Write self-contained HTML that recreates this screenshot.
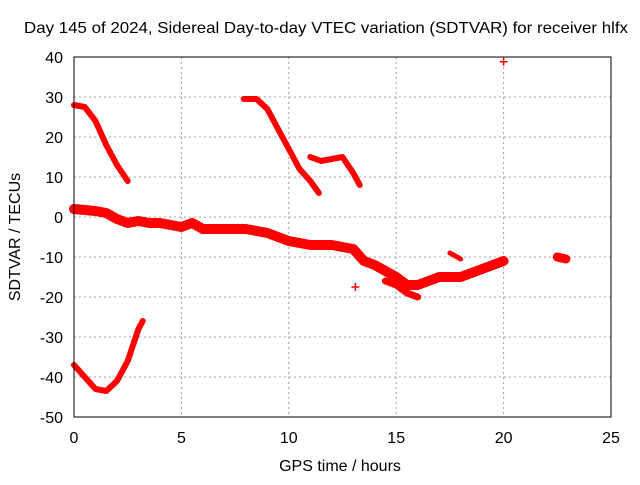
<!DOCTYPE html>
<html><head><meta charset="utf-8"><style>
body{margin:0;background:#fff}
svg text{font-family:"Liberation Sans",sans-serif;font-size:16px;fill:#000}
</style></head><body>
<svg id="c" width="640" height="480" xmlns="http://www.w3.org/2000/svg">
<text x="326" y="33" text-anchor="middle" textLength="604" lengthAdjust="spacingAndGlyphs">Day 145 of 2024, Sidereal Day-to-day VTEC variation (SDTVAR) for receiver hlfx</text>
<text x="340" y="471" text-anchor="middle">GPS time / hours</text>
<text transform="translate(20,237) rotate(-90)" text-anchor="middle">SDTVAR / TECUs</text>
<g id="grid"></g><g id="marks"></g>
<rect x="74" y="57" width="537" height="360" fill="none" stroke="#000"/>
</svg>
<script>
const xTicks=[0,5,10,15,20,25];
const yTicks=[40,30,20,10,0,-10,-20,-30,-40,-50];
const track1X=[0,0.5,1,1.5,2,2.5],track1Y=[28,27.5,24,18,13,9];
const track2X=[0,0.5,1,1.5,2,2.5,3,3.2],track2Y=[-37,-40,-43,-43.5,-41,-36,-28,-26];
const track3X=[7.9,8.5,9,9.5,10,10.5,11,11.4],track3Y=[29.5,29.5,27,22,17,12,9,6];
const track4X=[11,11.5,12,12.5,13,13.3],track4Y=[15,14,14.5,15,11,8];
const track5X=[0,1,1.5,2,2.5,3,3.5,4,5,5.5,6,7,8,9,10,11,12,13,13.5,14,15,15.5,16,16.5,17,18,19,20];
const track5Y=[2,1.5,1,-0.5,-1.5,-1,-1.5,-1.5,-2.5,-1.5,-3,-3,-3,-4,-6,-7,-7,-8,-11,-12,-15,-17,-17,-16,-15,-15,-13,-11];
const track6X=[14.5,15,15.5,16],track6Y=[-16,-17,-19,-20];
const track7X=[17.5,18],track7Y=[-9,-10.5];
const track8X=[22.5,22.9],track8Y=[-10,-10.5];
const pointsX=[20,13.1],pointsY=[38.8,-17.5];
const sx=v=>74+v*537/25, sy=v=>57+(40-v)*4;
const NS='http://www.w3.org/2000/svg';
const g=document.getElementById('grid'),m=document.getElementById('marks');
function mk(t,a,p){const e=document.createElementNS(NS,t);for(const k in a)e.setAttribute(k,a[k]);p.appendChild(e);return e;}
xTicks.forEach(v=>{
 if(v>0&&v<25){const l=mk('line',{x1:sx(v),x2:sx(v),y1:57,y2:417,stroke:'#a0a0a0','stroke-dasharray':'2,3'},g);
 
 }
 const t=mk('text',{x:sx(v),y:443,'text-anchor':'middle'},g);t.textContent=v;
 
 
});
yTicks.forEach(v=>{
 if(v<40&&v>-50){const l=mk('line',{x1:74,x2:611,y1:sy(v),y2:sy(v),stroke:'#a0a0a0','stroke-dasharray':'2,3'},g);
 
 }
 const t=mk('text',{x:63,y:sy(v)+6,'text-anchor':'end'},g);t.textContent=v;
 
 
});
const tracks=[[track1X,track1Y,6],[track2X,track2Y,6],[track3X,track3Y,6],[track4X,track4Y,6],[track5X,track5Y,10],[track6X,track6Y,7],[track7X,track7Y,5],[track8X,track8Y,9]];
tracks.forEach((tr,i)=>{
 const p=mk('polyline',{points:tr[0].map((x,j)=>sx(x)+','+sy(tr[1][j])).join(' '),fill:'none',stroke:'#f00','stroke-width':tr[2],'stroke-linejoin':'round','stroke-linecap':'round'},m);
 
 
});
pointsX.forEach((x,j)=>{
 const X=sx(x),Y=sy(pointsY[j]);
 const p=mk('path',{d:`M${X-4},${Y}h8M${X},${Y-4}v8`,stroke:'#f00','stroke-width':1.5},m);
 
 
});
</script>
</body></html>
